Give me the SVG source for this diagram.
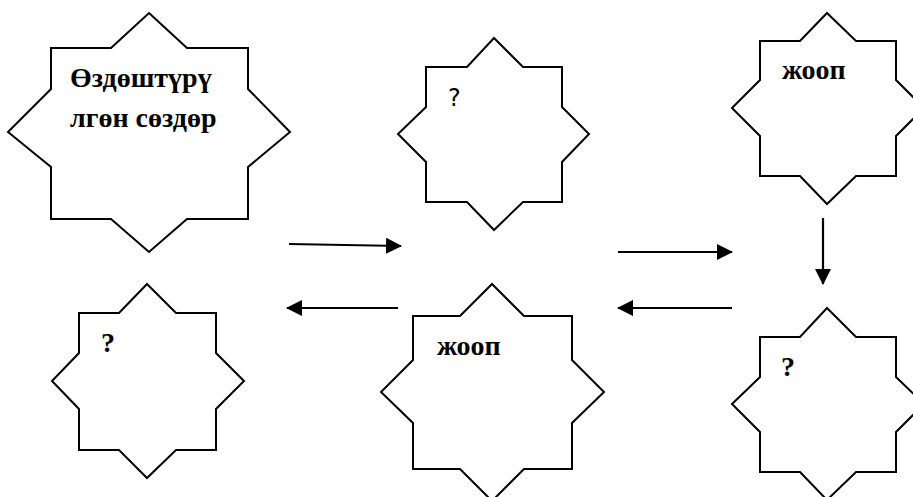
<svg xmlns="http://www.w3.org/2000/svg" width="913" height="497" viewBox="0 0 913 497">
<defs>
<style>
.star{fill:#fff;stroke:#000;stroke-width:2;stroke-linejoin:miter}
.conn{stroke:#000;stroke-width:2.2;fill:none}
.bt{font-family:"Liberation Serif","Times New Roman",serif;font-weight:bold;font-size:28px;fill:#000}
.st{font-family:"DejaVu Sans",sans-serif;font-size:24px;fill:#000}
</style>
<marker id="ah" markerUnits="userSpaceOnUse" markerWidth="16" markerHeight="16" refX="15" refY="8" orient="auto" viewBox="0 0 16 16">
<path d="M0,0 L16,8 L0,16 z" fill="#000"/>
</marker>
</defs>
<rect width="913" height="497" fill="#fff"/>
<g id="node1">
<polygon class="star" points="149,13 187,48 248,48 248,89 290,132 248,167 248,219 187,219 149,252 111,219 51,219 51,167 8,132 51,89 51,48 111,48"/>
<text class="bt" x="70" y="87">Өздөштүрү</text>
<text class="bt" x="70" y="127">лгөн сөздөр</text>
</g>
<g id="node2">
<polygon class="star" points="494,38 523,67 562,67 562,107 589,134 562,162 562,202 523,202 494,230 467,202 426,202 426,162 398,134 426,107 426,67 467,67"/>
<text class="st" x="448" y="106">?</text>
</g>
<g id="node3">
<polygon class="star" points="827,13 856,41 896,41 896,80 924,108 896,136 896,176 856,176 827,204 800,176 760,176 760,136 732,108 760,80 760,41 800,41"/>
<text class="bt" x="782" y="79">жооп</text>
</g>
<g id="node4">
<polygon class="star" points="147,284 176,313 216,313 216,353 244,381 216,409 216,450 176,450 147,478 119,450 79,450 79,409 52,381 79,353 79,313 119,313"/>
<text class="bt" x="101" y="352">?</text>
</g>
<g id="node5">
<polygon class="star" points="492,284 524,316 572,316 572,360 604,392 572,423 572,469 524,469 492,501 460,469 413,469 413,423 381,392 413,360 413,316 460,316"/>
<text class="bt" x="437" y="355">жооп</text>
</g>
<g id="node6">
<polygon class="star" points="827,308 856,337 896,337 896,377 924,404 896,432 896,472 856,472 827,500 800,472 760,472 760,432 732,404 760,377 760,337 800,337"/>
<text class="bt" x="781" y="376">?</text>
</g>
<g id="connectors">
<line class="conn" x1="289" y1="244" x2="401" y2="246" marker-end="url(#ah)"/>
<line class="conn" x1="618" y1="252" x2="732" y2="252" marker-end="url(#ah)"/>
<line class="conn" x1="823" y1="218" x2="823" y2="284" marker-end="url(#ah)"/>
<line class="conn" x1="732" y1="308" x2="618" y2="308" marker-end="url(#ah)"/>
<line class="conn" x1="398" y1="308" x2="287" y2="308" marker-end="url(#ah)"/>
</g>
</svg>
